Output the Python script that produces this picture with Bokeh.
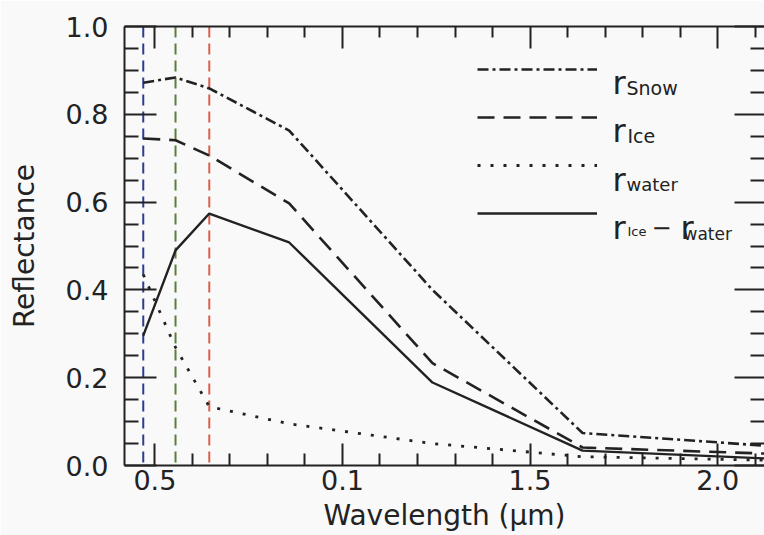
from bokeh.plotting import figure
from bokeh.models import (Range1d, FixedTicker, LinearAxis, Span, Legend, LegendItem,
                          Label, CustomJSTickFormatter)
from bokeh.embed import file_html
from bokeh.resources import INLINE

# ---- data ----
wavelength = [0.469, 0.555, 0.645, 0.858, 1.24, 1.64, 2.13]
r_snow = [0.872, 0.884, 0.859, 0.763, 0.400, 0.074, 0.045]
r_ice = [0.745, 0.741, 0.706, 0.597, 0.233, 0.041, 0.027]
r_water = [0.435, 0.269, 0.134, 0.095, 0.050, 0.020, 0.012]
r_diff = [0.296, 0.490, 0.574, 0.508, 0.189, 0.034, 0.016]

band_positions = [0.469, 0.555, 0.645]
band_colors = ["#2b3d8c", "#5b7d3e", "#d8604e"]

x_ticks = [0.5, 1.0, 1.5, 2.0]
x_tick_labels = ["0.5", "0.1", "1.5", "2.0"]
x_minor = [0.4, 0.6, 0.7, 0.8, 0.9, 1.1, 1.2, 1.3, 1.4, 1.6, 1.7, 1.8, 1.9, 2.1]
y_ticks = [0.0, 0.2, 0.4, 0.6, 0.8, 1.0]
y_tick_labels = ["0.0", "0.2", "0.4", "0.6", "0.8", "1.0"]
y_minor = [0.05, 0.1, 0.15, 0.25, 0.3, 0.35, 0.45, 0.5, 0.55, 0.65, 0.7, 0.75, 0.85, 0.9, 0.95]

FONT = "DejaVu Sans"
INK = "#222222"
BG = "#f9f9f9"

p = figure(width=764, height=535, output_backend="svg", toolbar_location=None,
           x_range=Range1d(0.419, 2.125), y_range=Range1d(0.0, 1.0),
           min_border_left=124, min_border_right=0, min_border_top=26, min_border_bottom=70)
p.background_fill_color = BG
p.border_fill_color = BG
p.outline_line_color = None
p.grid.visible = False

fmt_code = "for (let i = 0; i < t.length; i++) { if (Math.abs(t[i] - tick) < 1e-9) return l[i]; } return '';"
x_fmt = CustomJSTickFormatter(args=dict(t=x_ticks, l=x_tick_labels), code=fmt_code)
y_fmt = CustomJSTickFormatter(args=dict(t=y_ticks, l=y_tick_labels), code=fmt_code)
blank_fmt = CustomJSTickFormatter(code="return '';")


def style_axis(ax, tin, tmin):
    ax.axis_line_color = INK
    ax.axis_line_width = 2
    ax.major_tick_line_color = INK
    ax.minor_tick_line_color = INK
    ax.major_tick_line_width = 2
    ax.minor_tick_line_width = 2
    ax.major_tick_out = 0
    ax.minor_tick_out = 0
    ax.major_tick_in = tin
    ax.minor_tick_in = tmin
    ax.major_label_text_font = FONT
    ax.major_label_text_font_size = "27px"
    ax.major_label_text_color = INK
    ax.axis_label_text_font = FONT
    ax.axis_label_text_font_size = "28px"
    ax.axis_label_text_font_style = "normal"
    ax.axis_label_text_color = INK


xb = p.xaxis[0]
xb.ticker = FixedTicker(ticks=x_ticks, minor_ticks=x_minor)
xb.formatter = x_fmt
style_axis(xb, 22, 12)
xb.major_label_standoff = 4
xb.axis_label = "Wavelength (µm)"
xb.axis_label_standoff = 6

yl = p.yaxis[0]
yl.ticker = FixedTicker(ticks=y_ticks, minor_ticks=y_minor)
yl.formatter = y_fmt
style_axis(yl, 32, 14)
yl.major_label_standoff = 16
yl.axis_label = "Reflectance"
yl.axis_label_standoff = 22

xt = LinearAxis(ticker=FixedTicker(ticks=x_ticks, minor_ticks=x_minor), formatter=blank_fmt)
style_axis(xt, 22, 11)
xt.major_label_text_font_size = "1px"
xt.major_label_standoff = 0
p.add_layout(xt, "above")

yr = LinearAxis(ticker=FixedTicker(ticks=y_ticks, minor_ticks=y_minor), formatter=blank_fmt)
style_axis(yr, 30, 14)
yr.axis_line_color = None
yr.major_label_text_font_size = "1px"
yr.major_label_standoff = 0
p.add_layout(yr, "right")

for pos, col in zip(band_positions, band_colors):
    p.add_layout(Span(location=pos, dimension="height", line_color=col, line_width=2,
                      line_dash="11 6", level="underlay"))

l_snow = p.line(wavelength, r_snow, line_color=INK, line_width=2.6, line_dash="11 4 3 4")
l_ice = p.line(wavelength, r_ice, line_color=INK, line_width=2.6, line_dash="17 9")
l_water = p.line(wavelength, r_water, line_color=INK, line_width=2.8, line_dash="3 10")
l_diff = p.line(wavelength, r_diff, line_color=INK, line_width=2.4)

# legend handles (labels drawn separately to get subscripts)
FRAME_L, FRAME_B = 124, 465
ROW_H, ROW_GAP = 20, 28
LEG_TOP = 59
leg_h = 4 * ROW_H + 3 * ROW_GAP
legend = Legend(items=[LegendItem(label=" ", renderers=[r]) for r in (l_snow, l_ice, l_water, l_diff)],
                location=(477 - FRAME_L, FRAME_B - LEG_TOP - leg_h), glyph_width=120,
                glyph_height=ROW_H, label_height=ROW_H, label_width=1, spacing=ROW_GAP,
                padding=0, margin=0, label_standoff=0, border_line_color=None,
                background_fill_alpha=0, label_text_font_size="1px")
p.add_layout(legend)


def lab(text, px, py, size):
    p.add_layout(Label(x=px - FRAME_L, y=FRAME_B - py, x_units="screen", y_units="screen",
                       text=text, text_font=FONT, text_font_size=f"{size}px",
                       text_baseline="alphabetic", text_align="left", text_color=INK))


rows = [69, 117, 166, 214]
lab("r", 612, rows[0] + 13, 32)
lab("Snow", 626, rows[0] + 18, 19)
lab("r", 612, rows[1] + 13, 32)
lab("Ice", 627, rows[1] + 18, 19)
lab("r", 612, rows[2] + 13, 32)
lab("water", 626, rows[2] + 18, 18)
lab("r", 612, rows[3] + 13, 32)
lab("Ice", 627, rows[3] + 17, 13)
lab("\u2212", 651, rows[3] + 12, 24)
lab("r", 680, rows[3] + 13, 32)
lab("water", 683, rows[3] + 19, 17)

open("out.html", "w").write(file_html(p, INLINE))
